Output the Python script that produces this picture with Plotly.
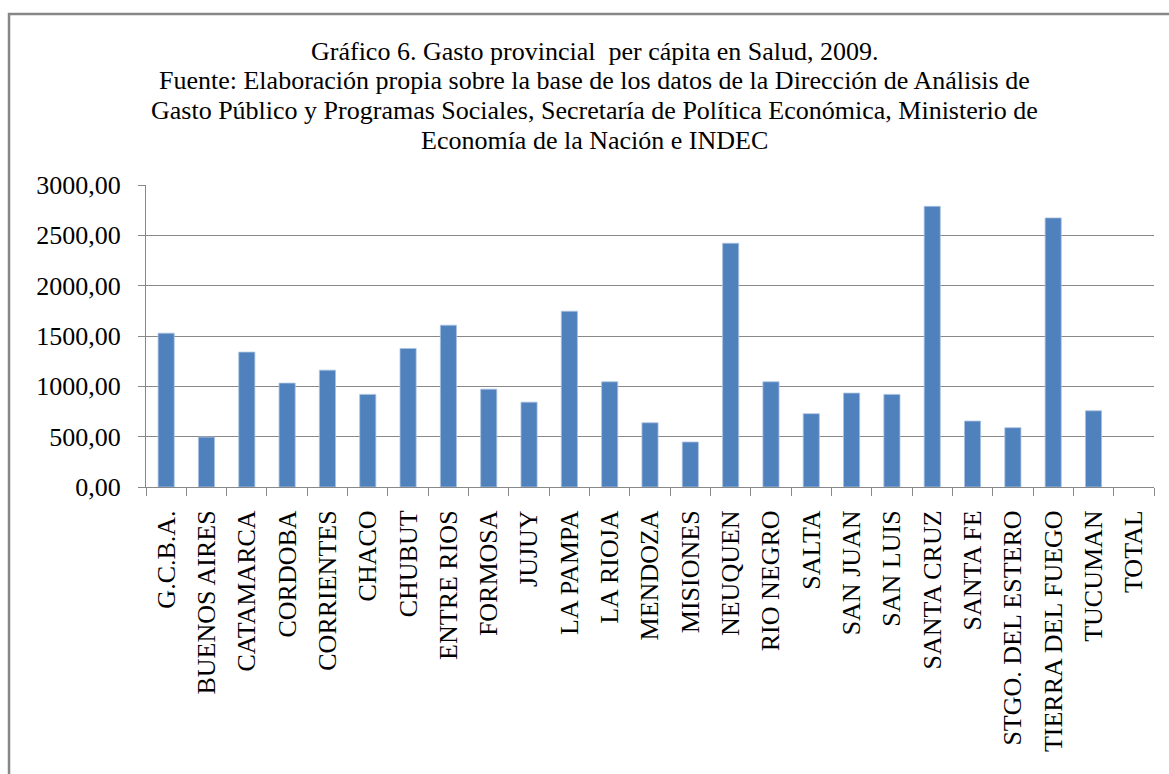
import plotly.graph_objects as go

provincias = ["G.C.B.A.", "BUENOS AIRES", "CATAMARCA", "CORDOBA", "CORRIENTES", "CHACO",
              "CHUBUT", "ENTRE RIOS", "FORMOSA", "JUJUY", "LA PAMPA", "LA RIOJA",
              "MENDOZA", "MISIONES", "NEUQUEN", "RIO NEGRO", "SALTA", "SAN JUAN",
              "SAN LUIS", "SANTA CRUZ", "SANTA FE", "STGO. DEL ESTERO",
              "TIERRA DEL FUEGO", "TUCUMAN", "TOTAL"]
gasto = [1528, 496, 1340, 1032, 1161, 920, 1376, 1607, 972, 843, 1746, 1045,
         638, 447, 2421, 1045, 728, 933, 920, 2788, 655, 589, 2673, 757, None]

y_tickvals = [0, 500, 1000, 1500, 2000, 2500, 3000]
y_ticktext = ["0,00", "500,00", "1000,00", "1500,00", "2000,00", "2500,00", "3000,00"]

titulo_lineas = [
    "Gráfico 6. Gasto provincial  per cápita en Salud, 2009.",
    "Fuente: Elaboración propia sobre la base de los datos de la Dirección de Análisis de",
    "Gasto Público y Programas Sociales, Secretaría de Política Económica, Ministerio de",
    "Economía de la Nación e INDEC",
]
titulo_y = [1.4437, 1.3460, 1.2467, 1.1474]

SERIF = "Liberation Serif"
GRAY = "#888888"

fig = go.Figure(go.Bar(
    x=provincias, y=gasto,
    marker=dict(color="#4F81BD", line=dict(color="#a9c1e2", width=0.8)),
))

annotations = [dict(text=t, xref="paper", yref="paper", x=0.4454, y=yy,
                    xanchor="center", yanchor="middle", showarrow=False,
                    font=dict(family=SERIF, size=26, color="black"))
               for t, yy in zip(titulo_lineas, titulo_y)]

fig.update_layout(
    width=1169, height=774,
    margin=dict(l=146, r=15, t=185, b=287),
    paper_bgcolor="white", plot_bgcolor="white",
    bargap=0.6,
    showlegend=False,
    font=dict(family=SERIF, color="black"),
    annotations=annotations,
    xaxis=dict(type="category", tickson="boundaries", ticks="outside", ticklen=8,
               tickcolor=GRAY, showline=True, linecolor=GRAY, linewidth=1,
               showgrid=False, tickangle=-90, tickfont=dict(family=SERIF, size=26),
               ticklabelstandoff=12),
    yaxis=dict(range=[0, 3000], tickvals=y_tickvals, ticktext=y_ticktext,
               ticks="outside", ticklen=7, tickcolor=GRAY,
               showline=True, linecolor=GRAY, linewidth=1,
               showgrid=True, gridcolor=GRAY, gridwidth=1, zeroline=False,
               tickfont=dict(family=SERIF, size=26), ticklabelstandoff=12),
    shapes=[dict(type="rect", xref="paper", yref="paper",
                 x0=-0.1359, x1=1.02, y0=-1.0, y1=1.566,
                 line=dict(color="#878787", width=2.5), fillcolor="rgba(0,0,0,0)",
                 layer="below")],
)

fig.write_html("out.html")
